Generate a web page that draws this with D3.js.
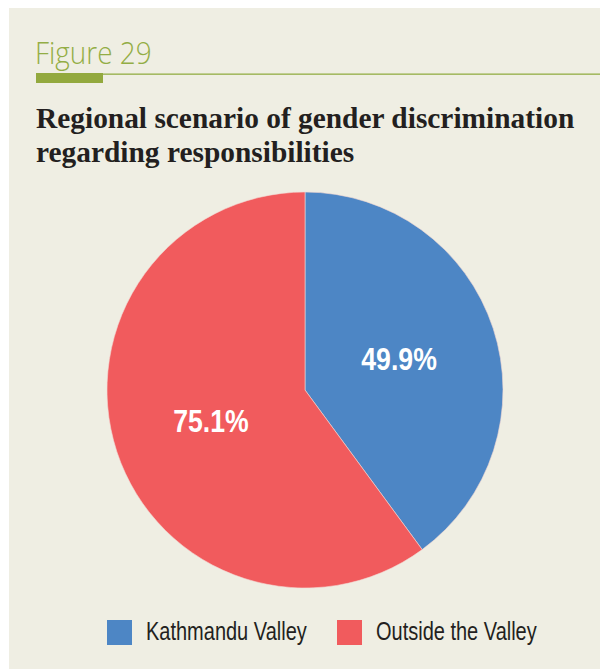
<!DOCTYPE html>
<html>
<head>
<meta charset="utf-8">
<script src="https://cdn.jsdelivr.net/npm/d3@7"></script>
<style>
  html, body { margin: 0; padding: 0; background: #ffffff; }
  svg { display: block; }
</style>
</head>
<body>
<svg id="chart" width="600" height="669"></svg>
<script>
// Share of respondents reporting gender discrimination regarding responsibilities
const regions = ["Kathmandu Valley", "Outside the Valley"];
const shares = [49.9, 75.1];
const colors = ["#4d86c5", "#f15b5d"];
const figureLabel = "Figure 29";
const titleLines = ["Regional scenario of gender discrimination", "regarding responsibilities"];

const svg = d3.select("#chart");
const W = 600, H = 669;
const sansFont = "'Liberation Sans', Arial, sans-serif";
const narrow = 0.86; // horizontal squeeze giving a condensed sans look

// panel background
svg.append("rect").attr("x", 9).attr("y", 8).attr("width", W - 9).attr("height", H - 8)
  .attr("fill", "#efeee3");

// figure number with rule underneath
svg.append("text").attr("transform", "translate(35,64) scale(0.9,1)")
  .attr("font-family", "'Open Sans', 'Noto Sans', sans-serif")
  .attr("font-weight", 300).attr("font-size", 31)
  .attr("fill", "#93ad45").text(figureLabel);
svg.append("rect").attr("x", 36).attr("y", 73.5).attr("width", W - 36).attr("height", 1.3)
  .attr("fill", "#93ad45");
svg.append("rect").attr("x", 36).attr("y", 73).attr("width", 67).attr("height", 10)
  .attr("fill", "#93a93e");

// title
const title = svg.append("text")
  .attr("font-family", "'Liberation Serif', 'DejaVu Serif', serif")
  .attr("font-weight", 700).attr("font-size", 29.4).attr("fill", "#231f20");
title.selectAll("tspan").data(titleLines).join("tspan")
  .attr("x", 36).attr("y", (d, i) => 128 + i * 34).text(d => d);

// pie
const cx = 305, cy = 390, r = 198;
const pie = d3.pie().sort(null).value(d => d.value);
const arcs = pie(regions.map((name, i) => ({ name, value: shares[i], color: colors[i] })));
const arc = d3.arc().innerRadius(0).outerRadius(r);
const labelArc = d3.arc().innerRadius(r * 0.5).outerRadius(r * 0.5);

const g = svg.append("g").attr("transform", `translate(${cx},${cy})`);
g.selectAll("path").data(arcs).join("path")
  .attr("d", arc).attr("fill", d => d.data.color)
  .attr("stroke", "#f3d9d4").attr("stroke-width", 0.6);

g.selectAll("text.val").data(arcs).join("text").attr("class", "val")
  .attr("transform", d => `translate(${labelArc.centroid(d)}) scale(${narrow},1)`)
  .attr("text-anchor", "middle").attr("dy", "0.36em")
  .attr("font-family", sansFont)
  .attr("font-weight", 700).attr("font-size", 31).attr("fill", "#ffffff")
  .text(d => d3.format(".1f")(d.data.value) + "%");

// legend
const legendX = [107, 337];
const lg = svg.append("g");
const items = lg.selectAll("g").data(regions).join("g")
  .attr("transform", (d, i) => `translate(${legendX[i]},620)`);
items.append("rect").attr("width", 25).attr("height", 25).attr("fill", (d, i) => colors[i]);
items.append("text").attr("transform", `translate(39,20) scale(0.8,1)`)
  .attr("font-family", sansFont)
  .attr("font-size", 25).attr("fill", "#231f20").text(d => d);
</script>
</body>
</html>
